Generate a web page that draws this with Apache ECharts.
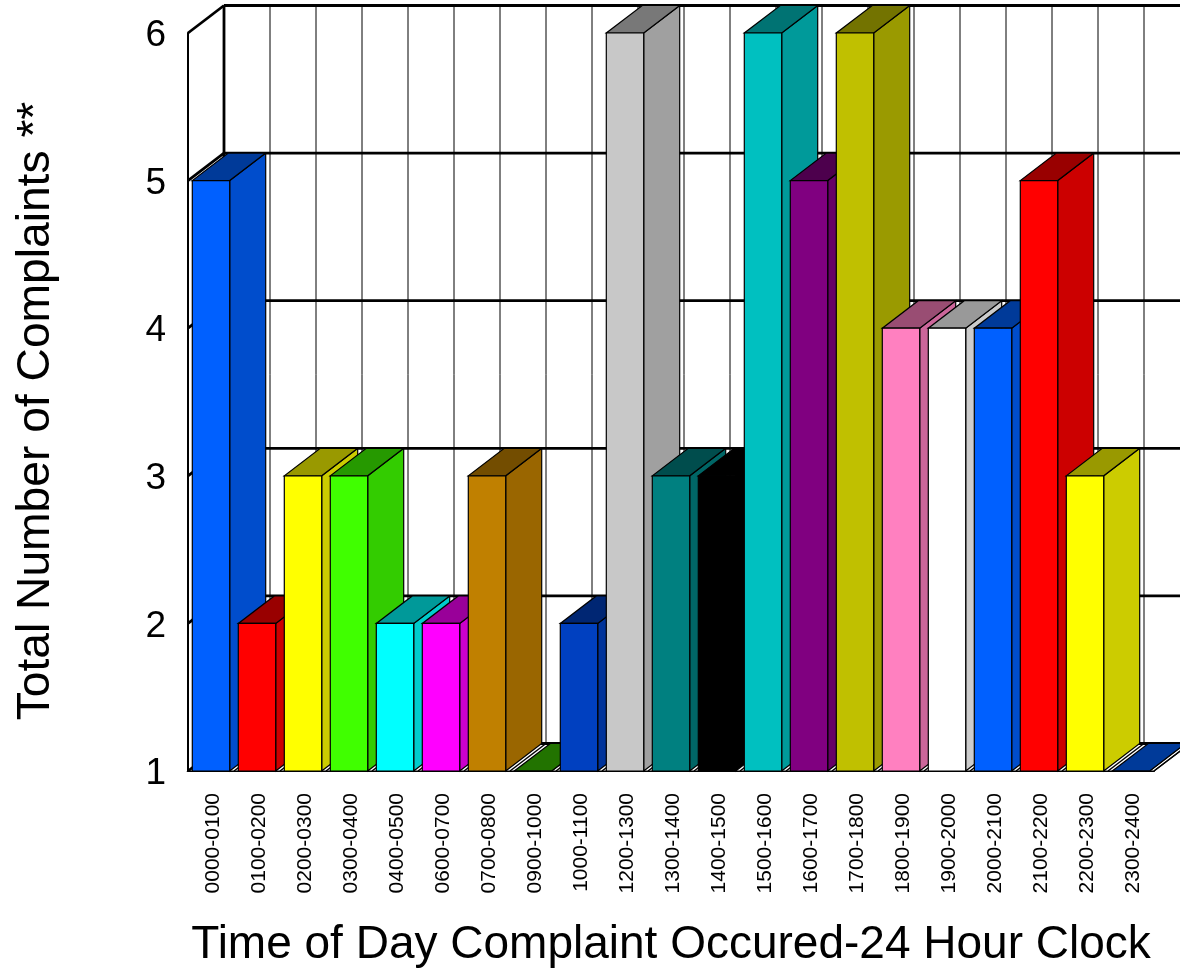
<!DOCTYPE html>
<html>
<head>
<meta charset="utf-8">
<style>
    html, body { margin: 0; padding: 0; background: #fff; }
    #chart { width: 1180px; height: 972px; }
</style>
<script src="https://cdn.jsdelivr.net/npm/echarts@6/dist/echarts.min.js"></script>
</head>
<body>
<div id="chart"></div>
<script>
var timeSlots = ["0000-0100", "0100-0200", "0200-0300", "0300-0400", "0400-0500", "0600-0700", "0700-0800",
    "0900-1000", "1000-1100", "1200-1300", "1300-1400", "1400-1500", "1500-1600", "1600-1700", "1700-1800",
    "1800-1900", "1900-2000", "2000-2100", "2100-2200", "2200-2300", "2300-2400"];
var complaints = [5, 2, 3, 3, 2, 2, 3, 1, 2, 6, 3, 3, 6, 5, 6, 4, 4, 4, 5, 3, 1];
var barColors = ["#0060ff", "#ff0000", "#ffff00", "#40ff00", "#00ffff", "#ff00ff", "#c08000",
    "#38c000", "#0040c0", "#c8c8c8", "#008080", "#000000", "#00c0c0", "#800080", "#c0c000",
    "#ff80c0", "#ffffff", "#0060ff", "#ff0000", "#ffff00", "#0060ff"];
var valueTicks = [1, 2, 3, 4, 5, 6];

// offset of the back wall from the front plane
var DEPTH_X = 36;
var DEPTH_Y = -27.5;
var BAR_GAP = 4.3;
var BAR_WIDTH = 37.4;

function shade(hex, factor) {
    var n = parseInt(hex.slice(1), 16);
    var r = Math.round((n >> 16 & 255) * factor);
    var g = Math.round((n >> 8 & 255) * factor);
    var b = Math.round((n & 255) * factor);
    return "rgb(" + r + "," + g + "," + b + ")";
}

function line(x1, y1, x2, y2, width) {
    return {
        type: "line",
        shape: { x1: x1, y1: y1, x2: x2, y2: y2 },
        style: { stroke: "#000", lineWidth: width, fill: null }
    };
}

function poly(points, fill) {
    return {
        type: "polygon",
        shape: { points: points },
        style: { fill: fill, stroke: "#000", lineWidth: 1.2 }
    };
}

// back wall, left wall and floor
function renderWalls(params, api) {
    var band = api.size([1, 0])[0];
    var children = [];
    var bottom = api.coord([0, valueTicks[0]])[1];
    var top = api.coord([0, valueTicks[valueTicks.length - 1]])[1];
    var left = api.coord([0, valueTicks[0]])[0] - band / 2;
    var right = left + band * timeSlots.length;

    children.push(poly([[left, bottom], [right, bottom], [right + DEPTH_X, bottom + DEPTH_Y], [left + DEPTH_X, bottom + DEPTH_Y]], "#fff"));

    timeSlots.forEach(function (slot, i) {
        var x = left + band * (i + 1);
        children.push(line(x + DEPTH_X, top + DEPTH_Y, x + DEPTH_X, bottom + DEPTH_Y, 1));
        children.push(line(x, bottom, x + DEPTH_X, bottom + DEPTH_Y, 1.5));
    });
    valueTicks.forEach(function (tick) {
        var y = api.coord([0, tick])[1];
        children.push(line(left + DEPTH_X, y + DEPTH_Y, right + DEPTH_X, y + DEPTH_Y, 2.8));
        children.push(line(left, y, left + DEPTH_X, y + DEPTH_Y, 2.8));
    });
    children.push(line(left + DEPTH_X, top + DEPTH_Y, left + DEPTH_X, bottom + DEPTH_Y, 2.8));
    return { type: "group", children: children };
}

function renderBar(params, api) {
    var i = api.value(0);
    var band = api.size([1, 0])[0];
    var x0 = api.coord([i, api.value(1)])[0] - band / 2 + BAR_GAP;
    var x1 = x0 + BAR_WIDTH;
    var y = api.coord([i, api.value(1)])[1];
    var base = api.coord([i, valueTicks[0]])[1];
    var color = barColors[i];
    return {
        type: "group",
        children: [
            poly([[x1, y], [x1 + DEPTH_X, y + DEPTH_Y], [x1 + DEPTH_X, base + DEPTH_Y], [x1, base]], shade(color, 0.8)),
            poly([[x0, y], [x1, y], [x1 + DEPTH_X, y + DEPTH_Y], [x0 + DEPTH_X, y + DEPTH_Y]], shade(color, 0.6)),
            poly([[x0, y], [x1, y], [x1, base], [x0, base]], color)
        ]
    };
}

var chart = echarts.init(document.getElementById("chart"), null, { renderer: "canvas" });
chart.setOption({
    animation: false,
    backgroundColor: "#fff",
    textStyle: { fontFamily: "Liberation Sans" },
    grid: { left: 188, top: 33, width: 966, height: 738, containLabel: false, outerBoundsMode: "none" },
    xAxis: {
        type: "category",
        data: timeSlots,
        boundaryGap: true,
        name: "Time of Day Complaint Occured-24 Hour Clock",
        nameLocation: "middle",
        nameGap: 151,
        nameTextStyle: { fontSize: 46, color: "#000", fontFamily: "Liberation Sans" },
        axisLine: { show: true, lineStyle: { color: "#000", width: 2 } },
        axisTick: { show: false },
        axisLabel: {
            interval: 0,
            rotate: 90,
            margin: 22,
            formatter: "{n|{value}}",
            rich: { n: { fontSize: 21, color: "#000", fontFamily: "Liberation Sans", padding: [4, 0, 0, 0] } }
        },
        splitLine: { show: false }
    },
    yAxis: {
        type: "value",
        min: 1,
        max: 6,
        interval: 1,
        name: "Total Number of Complaints **",
        nameLocation: "middle",
        nameGap: 129,
        nameRotate: 90,
        nameTextStyle: { fontSize: 46.2, color: "#000", fontFamily: "Liberation Sans", padding: [0, 18, 0, 0] },
        axisLine: { show: true, lineStyle: { color: "#000", width: 2 } },
        axisTick: { show: false },
        axisLabel: {
            margin: 22,
            formatter: "{n|{value}}",
            rich: { n: { fontSize: 37, color: "#000", fontFamily: "Liberation Sans", padding: [6, 0, 0, 0] } }
        },
        splitLine: { show: false }
    },
    series: [
        {
            type: "custom",
            coordinateSystem: "cartesian2d",
            renderItem: renderWalls,
            clip: false,
            silent: true,
            z: 1,
            data: [[0, 1]]
        },
        {
            type: "custom",
            coordinateSystem: "cartesian2d",
            renderItem: renderBar,
            clip: false,
            silent: true,
            z: 3,
            encode: { x: 0, y: 1 },
            data: complaints.map(function (v, i) { return [i, v]; })
        }
    ]
});

window.addEventListener("resize", function () {
    chart.resize();
});
</script>
</body>
</html>
